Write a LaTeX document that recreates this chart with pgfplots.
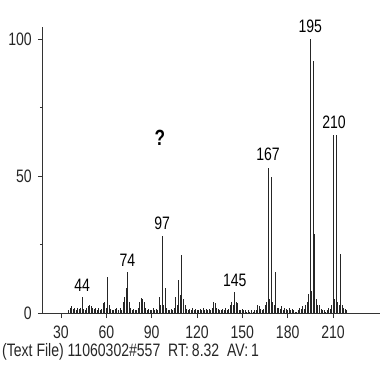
\documentclass[border=0pt]{standalone}
\usepackage{fontspec}
\setmainfont{Liberation Sans}[FakeStretch=0.78]
\usepackage{pgfplots}
\pgfplotsset{compat=1.18}
\begin{document}
\fontsize{18}{21}\selectfont
\begin{tikzpicture}[x=1pt,y=1pt]
\useasboundingbox (0,0) rectangle (380,370);
\begin{axis}[
  at={(43pt,57pt)}, anchor=south west,
  scale only axis, width=337pt, height=286pt,
  xmin=18.1, xmax=241.1, ymin=0, ymax=104.4,
  axis x line*=bottom, axis y line*=left,
  axis line style={-, black!80, line width=1pt},
  xtick={30,60,...,210}, ytick={0,50,100}, minor ytick={25,75},
  tick align=outside, major tick length=5pt, minor tick length=3pt,
  tick style={black!80, line width=0.8pt},
  tick label style={font=\fontsize{18}{21}\selectfont, text=black!85},
  xticklabel style={yshift=-2pt},
  /pgf/number format/assume math mode=true,
  clip=false,
]
\addplot[ycomb, black!85, line width=0.8pt, mark=none] coordinates {
(35,1) (36,2) (37,2.5) (38,1.5) (39,2) (40,1) (41,2) (42,1.5) (43,2) (44,6)
(45,1.5) (46,1) (47,2) (48,2.5) (49,3) (50,2.5) (51,2) (52,1.5) (53,2) (54,1)
(55,2) (56,1) (57,1.5) (58,3.5) (59,4) (60,2) (61,13) (62,3) (63,1.5) (64,1)
(65,1) (66,1.5) (67,2) (68,1) (69,2) (70,1) (71,4) (72,6) (73,9) (74,15)
(75,4) (76,2) (77,1) (78,1.5) (79,1) (80,1) (81,2) (82,4) (83,5.5) (84,5)
(85,4) (86,2) (87,1) (88,1.5) (89,1) (90,1) (91,2) (92,1) (93,1.5) (94,1)
(95,6) (96,3) (97,28) (98,3) (99,9) (100,2) (101,1) (102,1) (103,1.5) (104,1)
(105,2) (106,6) (107,3) (108,12) (109,6.5) (110,21) (111,5) (112,3) (113,1.5) (114,1)
(115,1.5) (116,1) (117,2) (118,1) (119,1.5) (120,1) (121,1) (122,1.5) (123,1) (124,2)
(125,1) (126,1.5) (127,1) (128,1.5) (129,1) (130,2) (131,4) (132,3.5) (133,2) (134,1.5)
(135,1) (136,1) (137,1.5) (138,1) (139,2) (140,1) (141,1.5) (142,3) (143,4) (144,3)
(145,7.5) (146,4) (147,3.5) (148,1) (149,1) (150,1.5) (151,1) (152,1) (153,0.5) (154,1)
(155,0.5) (156,1) (157,0.5) (158,1) (159,1) (160,3) (161,2.5) (162,1.5) (163,1) (164,1.5)
(165,3) (166,4) (167,53) (168,5) (169,49.5) (170,4) (171,3) (172,15) (173,2) (174,2)
(175,1.5) (176,2.5) (177,1) (178,2) (179,1.5) (180,1) (181,2) (182,1) (183,1.5) (184,1)
(185,0.5) (186,0.5) (187,1) (188,2) (189,1.5) (190,2.5) (191,1.5) (192,3) (193,4) (194,7)
(195,100) (196,8) (197,92) (198,29) (199,5) (200,3) (201,3) (202,1.5) (203,1) (204,1)
(205,0.5) (206,1) (207,2) (208,1.5) (209,3) (210,65) (211,5) (212,65) (213,4) (214,3)
(215,21.5) (216,3) (217,2) (218,1.5) (219,1)
};
\node[anchor=south, inner sep=1pt] at (axis cs:44,7.5) {44};
\node[anchor=south, inner sep=1pt] at (axis cs:74,16.5) {74};
\node[anchor=south, inner sep=1pt] at (axis cs:97,30) {97};
\node[anchor=south, inner sep=1pt] at (axis cs:145,9) {145};
\node[anchor=south, inner sep=1pt] at (axis cs:167,55) {167};
\node[anchor=south, inner sep=1pt] at (axis cs:195,102) {195};
\node[anchor=south, inner sep=1pt] at (axis cs:210.7,67) {210};
\node[font=\fontsize{22}{24}\selectfont\bfseries] at (axis cs:95.5,64) {?};
\end{axis}
\node[anchor=west, inner sep=0pt, text=black!85] at (2,18) {(Text File) 11060302\#557\ \ RT:\,8.32\ \ AV:\,1};
\end{tikzpicture}
\end{document}
